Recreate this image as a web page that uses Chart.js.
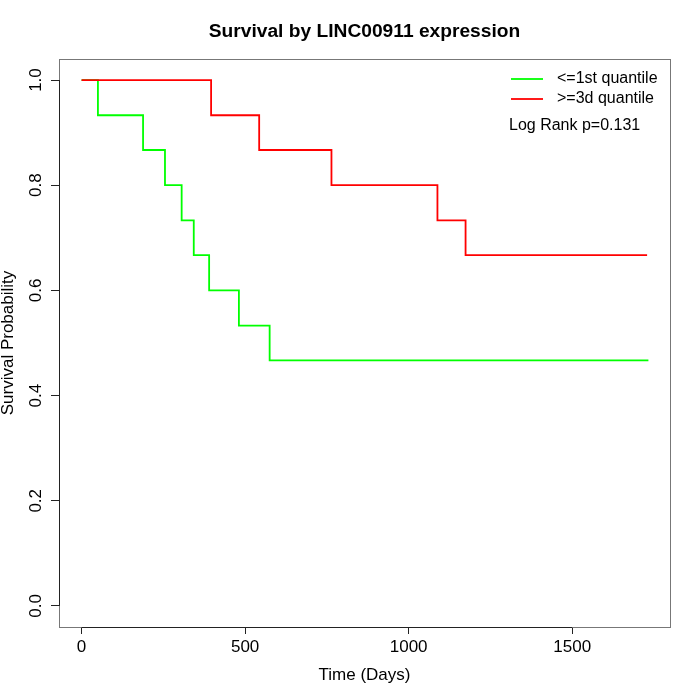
<!DOCTYPE html>
<html>
<head>
<meta charset="utf-8">
<script src="https://cdn.jsdelivr.net/npm/chart.js@4.4.1/dist/chart.umd.min.js"></script>
<style>
  html, body { margin: 0; padding: 0; background: #fff; }
  #wrap { width: 700px; height: 700px; }
</style>
</head>
<body>
<div id="wrap"><canvas id="kmChart" width="700" height="700"></canvas></div>
<script>
// values
const lowTimes = [0, 50, 188, 255, 306, 343, 390, 481, 575, 1733];
const lowSurv = [1, 0.933, 0.867, 0.8, 0.733, 0.667, 0.6, 0.533, 0.467, 0.467];
const highTimes = [0, 396, 543, 764, 1088, 1174, 1729];
const highSurv = [1, 0.933, 0.867, 0.8, 0.733, 0.667, 0.667];

const xTicks = [0, 500, 1000, 1500];
const yTicks = [0, 0.2, 0.4, 0.6, 0.8, 1.0];
const yTickLabels = ['0.0', '0.2', '0.4', '0.6', '0.8', '1.0'];
const legendLabels = ['<=1st quantile', '>=3d quantile'];
const pValueText = 'Log Rank p=0.131';
const mainTitle = 'Survival by LINC00911 expression';

const FONT = "'Liberation Sans', Arial, Helvetica, sans-serif";

const toPoints = (xs, ys) => xs.map((x, i) => ({x: x, y: ys[i]}));

// title over the plot, box, axis lines, rotated y labels, legend
const rDecor = {
    id: 'rDecor',
    afterDraw(chart) {
        const ctx = chart.ctx;
        const a = chart.chartArea;
        const xs = chart.scales.x;
        const ys = chart.scales.y;
        ctx.save();

        ctx.fillStyle = '#000';
        ctx.font = 'bold 19.2px ' + FONT;
        ctx.textAlign = 'center';
        ctx.textBaseline = 'middle';
        ctx.fillText(mainTitle, (a.left + a.right) / 2, 31.5);

        ctx.strokeStyle = '#777';
        ctx.lineWidth = 1;
        ctx.strokeRect(Math.round(a.left) + 0.5, Math.round(a.top) + 0.5,
            Math.round(a.right - a.left), Math.round(a.bottom - a.top));

        ctx.strokeStyle = '#222';
        ctx.beginPath();
        ctx.moveTo(xs.getPixelForValue(xTicks[0]), Math.round(a.bottom) + 0.5);
        ctx.lineTo(xs.getPixelForValue(xTicks[xTicks.length - 1]), Math.round(a.bottom) + 0.5);
        ctx.moveTo(Math.round(a.left) + 0.5, ys.getPixelForValue(yTicks[0]));
        ctx.lineTo(Math.round(a.left) + 0.5, ys.getPixelForValue(yTicks[yTicks.length - 1]));
        ctx.stroke();

        ctx.font = '17px ' + FONT;
        for (let i = 0; i < yTicks.length; i++) {
            ctx.save();
            ctx.translate(36, ys.getPixelForValue(yTicks[i]));
            ctx.rotate(-Math.PI / 2);
            ctx.fillText(yTickLabels[i], 0, 0);
            ctx.restore();
        }

        // legend, top right inside the plot
        const sets = [chart.data.datasets[1], chart.data.datasets[0]];
        ctx.font = '16px ' + FONT;
        ctx.textAlign = 'left';
        ctx.lineWidth = 1.8;
        for (let i = 0; i < sets.length; i++) {
            const ly = 79 + i * 20;
            ctx.strokeStyle = sets[i].borderColor;
            ctx.beginPath();
            ctx.moveTo(511, ly);
            ctx.lineTo(543, ly);
            ctx.stroke();
            ctx.fillText(sets[i].label, 557, ly);
        }
        ctx.fillText(pValueText, 509, 126);
        ctx.restore();
    }
};

const kmData = {
    datasets: [{
        label: legendLabels[1],
        data: toPoints(highTimes, highSurv),
        borderColor: '#ff0000',
        borderWidth: 1.8,
        stepped: true,
        pointRadius: 0,
        fill: false,
        order: 0
    }, {
        label: legendLabels[0],
        data: toPoints(lowTimes, lowSurv),
        borderColor: '#00ff00',
        borderWidth: 1.8,
        stepped: true,
        pointRadius: 0,
        fill: false,
        order: 1
    }]
};

const kmConfig = {
    type: 'line',
    data: kmData,
    options: {
        responsive: false,
        animation: false,
        layout: {
            padding: {left: 0, right: 30, top: 59, bottom: 0}
        },
        plugins: {
            legend: {display: false},
            tooltip: {enabled: false},
            title: {display: false}
        },
        scales: {
            x: {
                type: 'linear',
                min: -69,
                max: 1799,
                afterBuildTicks: s => { s.ticks = xTicks.map(v => ({value: v})); },
                ticks: {
                    color: '#000',
                    font: {family: FONT, size: 17},
                    padding: 3,
                    maxRotation: 0,
                    callback: v => String(v)
                },
                grid: {
                    drawOnChartArea: false,
                    drawTicks: true,
                    tickLength: 7,
                    color: '#222'
                },
                border: {display: false},
                title: {
                    display: true,
                    text: 'Time (Days)',
                    color: '#000',
                    font: {family: FONT, size: 17},
                    padding: {top: 4.4, bottom: 14.8}
                }
            },
            y: {
                type: 'linear',
                min: -0.04,
                max: 1.04,
                afterBuildTicks: s => { s.ticks = yTicks.map(v => ({value: v})); },
                ticks: {display: false},
                grid: {
                    drawOnChartArea: false,
                    drawTicks: true,
                    tickLength: 8,
                    color: '#222'
                },
                border: {display: false},
                title: {
                    display: true,
                    text: 'Survival Probability',
                    color: '#000',
                    font: {family: FONT, size: 17, lineHeight: 1},
                    padding: {top: 0, bottom: 34}
                }
            }
        }
    },
    plugins: [rDecor]
};

const kmChart = new Chart(document.getElementById('kmChart'), kmConfig);
</script>
</body>
</html>
